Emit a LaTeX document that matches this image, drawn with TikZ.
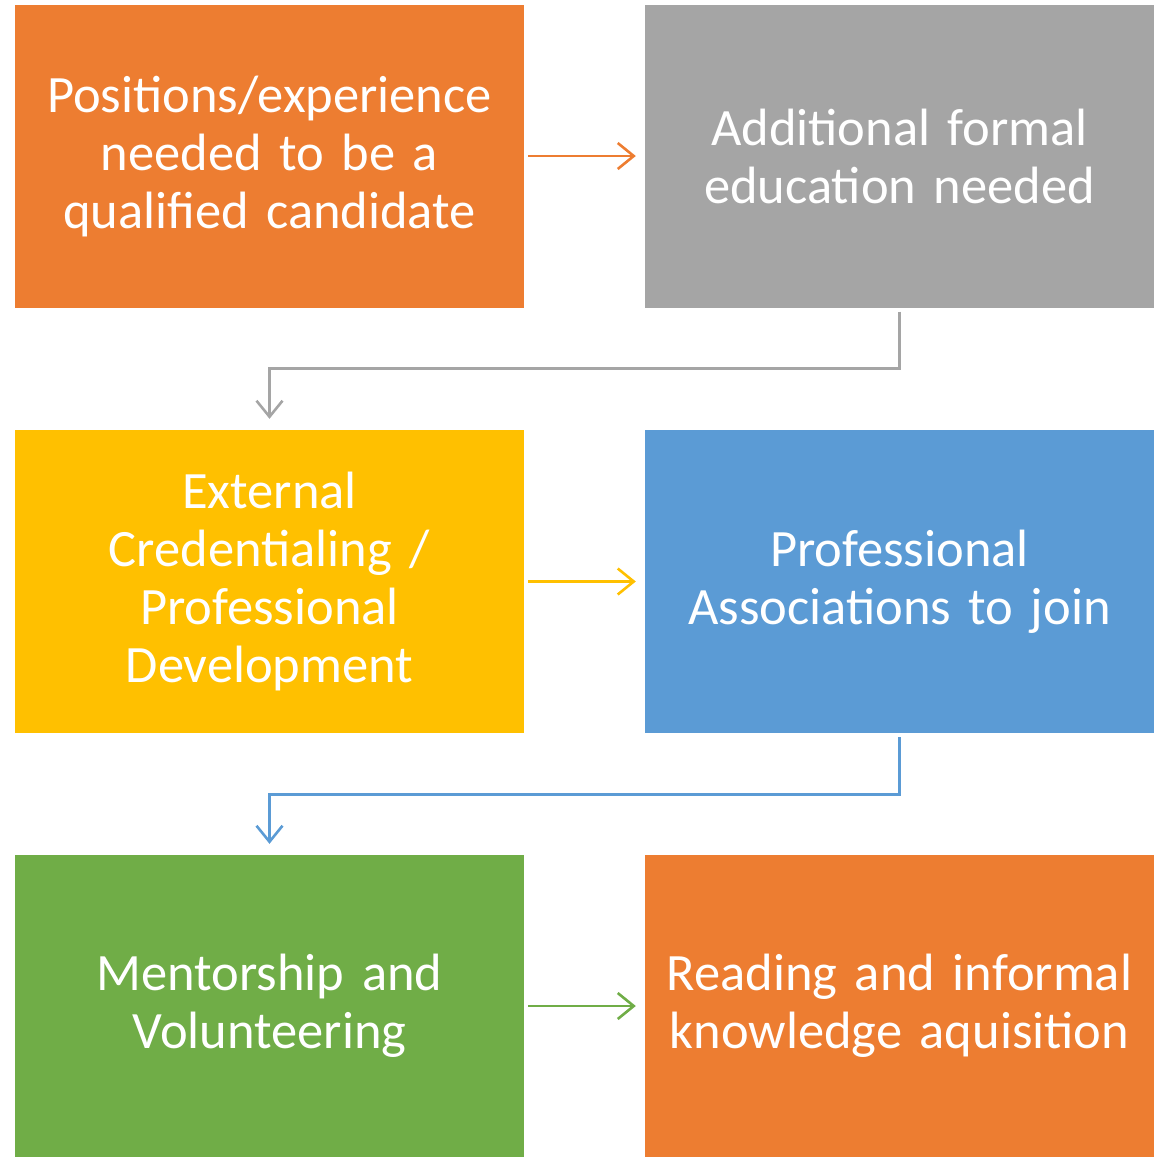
\documentclass[tikz,border=0pt]{standalone}
\usepackage{fontspec}
\setmainfont{Carlito}
\usetikzlibrary{arrows.meta}
\definecolor{corange}{HTML}{ED7D31}
\definecolor{cgray}{HTML}{A5A5A5}
\definecolor{cyellow}{HTML}{FFC000}
\definecolor{cblue}{HTML}{5B9BD5}
\definecolor{cgreen}{HTML}{70AD47}
\newcommand\myboxfont{\fontsize{52.5}{58}\selectfont\spaceskip=8.5pt plus 2pt minus 2pt\relax}
\begin{document}
\begin{tikzpicture}[x=1pt,y=-1pt,
  box/.style={minimum width=509pt,minimum height=303pt,inner sep=0pt,text=white,align=center,
    font=\myboxfont,text width=500pt},
  conn/.style={line width=2.6pt,-{Straight Barb[length=16pt,width=26pt,line width=2.6pt]}}]
\useasboundingbox (0,0) rectangle (1159,1157);
\node[box,fill=corange] (b1) at (269.5,156) {Positions/experience\\needed to be a\\qualified candidate};
\node[box,fill=cgray] (b2) at (899.5,156) {Additional formal\\education needed};
\node[box,fill=cyellow] (b3) at (269.5,581.5) {External\\Credentialing /\\Professional\\Development};
\node[box,fill=cblue] (b4) at (899.5,581.5) {Professional\\Associations to join};
\node[box,fill=cgreen,minimum height=302pt] (b5) at (269.5,1006) {Mentorship and\\Volunteering};
\node[box,fill=corange,minimum height=302pt] (b6) at (899.5,1006) {Reading and informal\\knowledge aquisition};
\draw[conn,corange] ([xshift=4pt]b1.east) -- ([xshift=-9pt]b2.west);
\draw[conn,cyellow] ([xshift=4pt]b3.east) -- ([xshift=-9pt]b4.west);
\draw[conn,cgreen] ([xshift=4pt]b5.east) -- ([xshift=-9pt]b6.west);
\draw[conn,cgray] ([yshift=-4pt]b2.south) -- ++(0,57) -| ([yshift=11pt]b3.north);
\draw[conn,cblue] ([yshift=-4pt]b4.south) -- ++(0,57) -| ([yshift=11pt]b5.north);
\end{tikzpicture}
\end{document}
